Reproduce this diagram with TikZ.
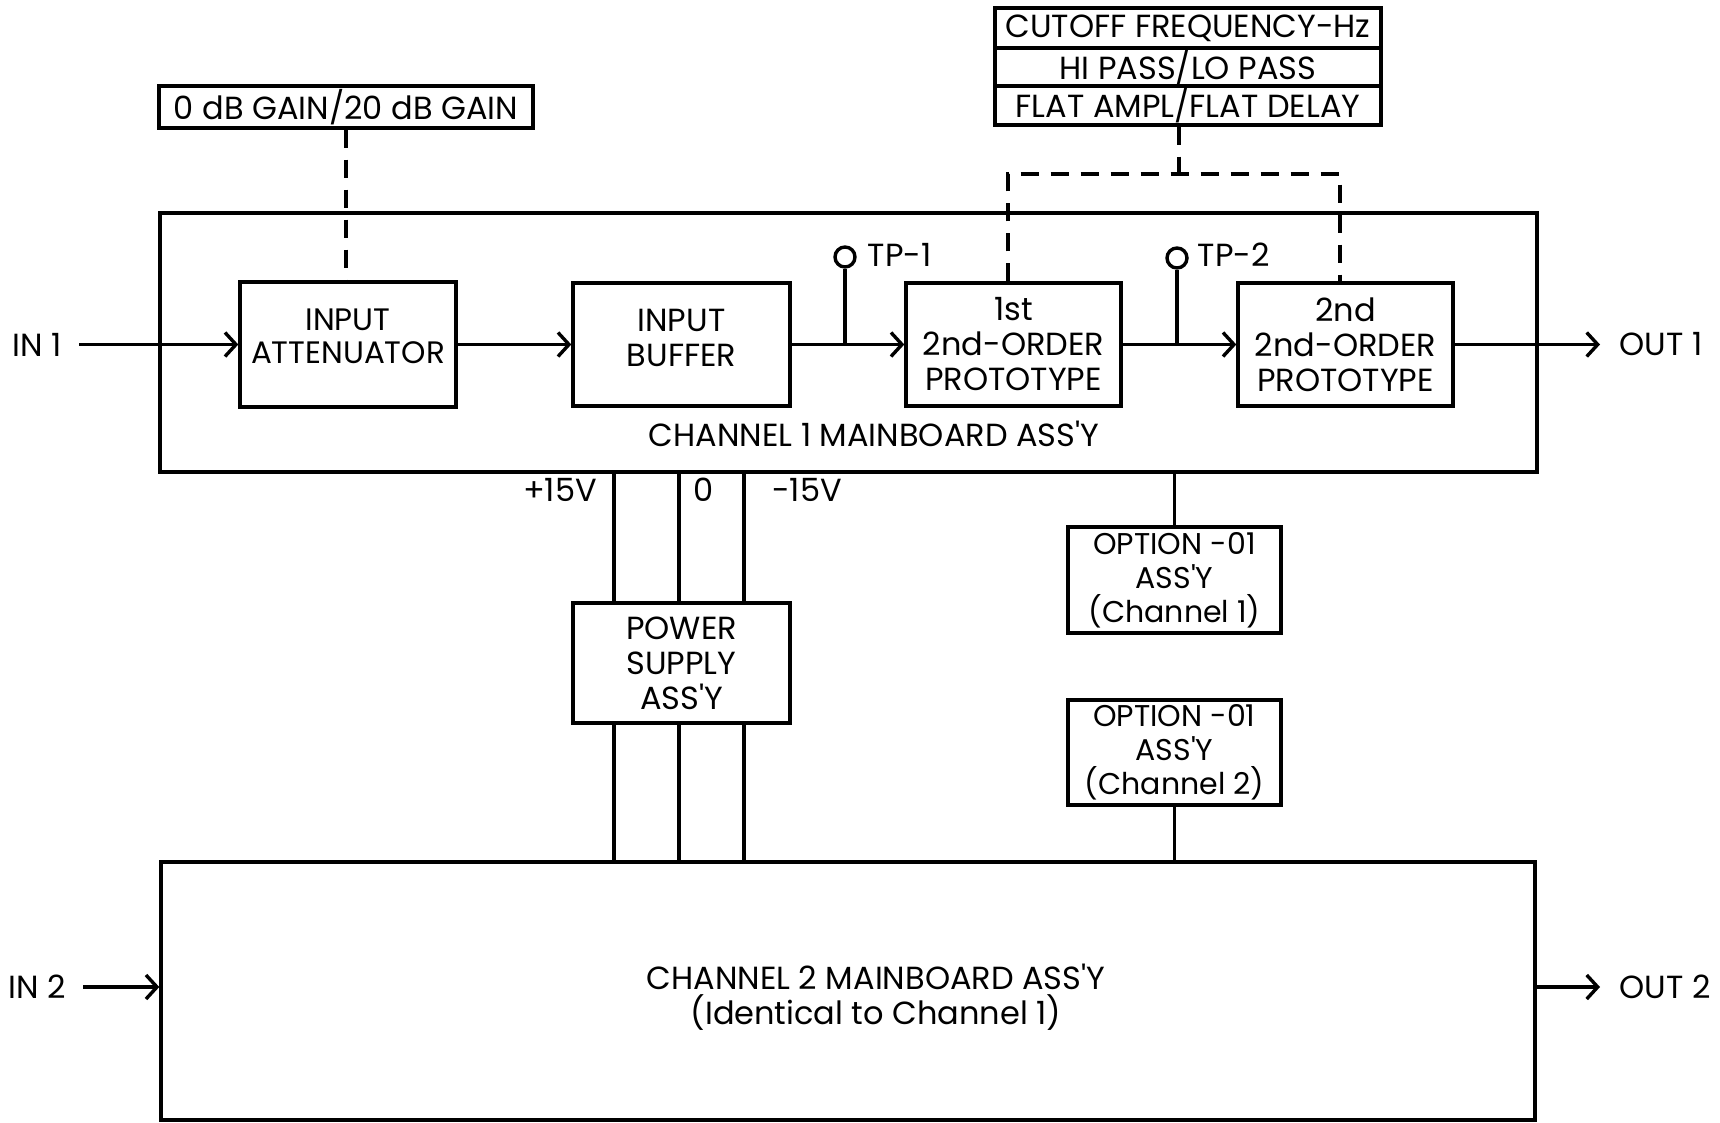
\documentclass[tikz,border=0pt]{standalone}
\usepackage{fontspec}
\setmainfont{Poppins}[Ligatures=TeXOff]
\usetikzlibrary{arrows.meta,calc}
\begin{document}
\begin{tikzpicture}[x=1pt,y=-1pt,
  line width=3.4pt,
  txt/.style={font=\fontsize{32}{35}\selectfont},
  smalltxt/.style={font=\fontsize{30}{34}\selectfont},
  blk/.style={draw, line width=3.4pt, inner sep=0pt, align=center, txt},
  lbl/.style={inner sep=0pt, txt},
  dsh/.style={dash pattern=on 18pt off 12pt, line width=3.4pt},
  arr/.style={-{Straight Barb[length=11pt,width=24pt,line width=3.4pt]}},
  tp/.style={draw, circle, line width=3.4pt, minimum size=20pt, inner sep=0pt},
]
\useasboundingbox (0,0) rectangle (1720,1122);

% main boards
\node[draw, line width=3.4pt, minimum width=1377pt, minimum height=259pt] (ch1) at (848.5,342.5) {};
\node[lbl] (ch1lbl) at (874,434) {CHANNEL 1 MAINBOARD ASS'Y};
\node[draw, line width=3.4pt, minimum width=1374pt, minimum height=258pt] (ch2) at (848,991) {};
\node[lbl, align=center] (ch2lbl) at (876,997) {CHANNEL 2 MAINBOARD ASS'Y\\(Identical to Channel 1)};

% channel 1 blocks
\node[blk, minimum width=216pt, minimum height=125pt, text depth=16pt, font=\fontsize{31}{35}\selectfont] (att) at (348,344.5) {INPUT\\[-2pt]ATTENUATOR};
\node[blk, minimum width=217pt, minimum height=123pt, text depth=14pt] (buf) at (681.5,344.5) {INPUT\\BUFFER};
\node[blk, minimum width=215pt, minimum height=123pt] (pro1) at (1013.5,344.5) {1st\\2nd-ORDER\\PROTOTYPE};
\node[blk, minimum width=215pt, minimum height=123pt] (pro2) at (1345.5,344.5) {2nd\\2nd-ORDER\\PROTOTYPE};

% switches
\node[blk, minimum width=374pt, minimum height=42pt] (gain) at (346,107) {0 dB GAIN/20 dB GAIN};
\node[blk, minimum width=386pt, minimum height=40pt] (cut1) at (1188,28) {CUTOFF FREQUENCY-Hz};
\node[blk, minimum width=386pt, minimum height=38pt] (cut2) at (1188,67) {HI PASS/LO PASS};
\node[blk, minimum width=386pt, minimum height=39pt] (cut3) at (1188,105.5) {FLAT AMPL/FLAT DELAY};

% power and options
\node[blk, minimum width=217pt, minimum height=120pt] (psu) at (681.5,663) {POWER\\SUPPLY\\ASS'Y};
\node[blk, smalltxt, minimum width=213pt, minimum height=106pt] (opt1) at (1174.5,580) {OPTION -01\\ASS'Y\\(Channel 1)};
\node[blk, smalltxt, minimum width=213pt, minimum height=105pt] (opt2) at (1174.5,752.5) {OPTION -01\\ASS'Y\\(Channel 2)};

% terminals
\node[lbl] (in1) at (37,344.5) {IN 1};
\node[lbl, anchor=west] (out1) at (1618,344.5) {OUT 1};
\node[lbl] (in2) at (37,987) {IN 2};
\node[lbl, anchor=west] (out2) at (1618,987) {OUT 2};

% test points
\node[tp] (tp1) at (845,257) {};
\node[lbl, anchor=west] (tp1lbl) at (866,255) {TP-1};
\node[tp] (tp2) at (1177,258) {};
\node[lbl, anchor=west] (tp2lbl) at (1196,255) {TP-2};

% power rail labels
\node[lbl] (v1) at (560,490) {+15V};
\node[lbl] (v0) at (704,490) {0};
\node[lbl] (v2) at (807,490) {-15V};

% signal path
\draw[arr] ([xshift=16pt]in1.east) -- (att.west);
\draw[arr] (att.east) -- (buf.west);
\draw[arr] (buf.east) -- (pro1.west);
\draw[arr] (pro1.east) -- (pro2.west);
\draw[arr] (pro2.east) -- ([xshift=-18pt]out1.west);
\draw (tp1.south) -- (tp1.south |- buf.east);
\draw (tp2.south) -- (tp2.south |- pro1.east);

% dashed control links
\draw[dsh] (gain.south) -- (gain.south |- att.north);
\coordinate (dj) at (1179,174);
\coordinate (dl) at (1008,174);
\coordinate (dr) at (1340,174);
\draw[dsh] (cut3.south -| dj) -- (dj);
\draw[dsh] (pro1.north -| dl) -- (dl) -- (dr) -- (pro2.north -| dr);

% power rails
\coordinate (pa) at (614,0);
\coordinate (pb) at (679,0);
\coordinate (pc) at (744,0);
\foreach \p in {pa,pb,pc}{
  \draw (ch1.south -| \p) -- (psu.north -| \p);
  \draw (psu.south -| \p) -- (ch2.north -| \p);
}

% options
\draw (ch1.south -| opt1.north) -- (opt1.north);
\draw (opt2.south) -- (opt2.south |- ch2.north);

% channel 2 io
\draw[arr] ([xshift=16pt]in2.east) -- (ch2.west |- in2.east);
\draw[arr] (ch2.east |- out2.west) -- ([xshift=-18pt]out2.west);
\end{tikzpicture}
\end{document}
